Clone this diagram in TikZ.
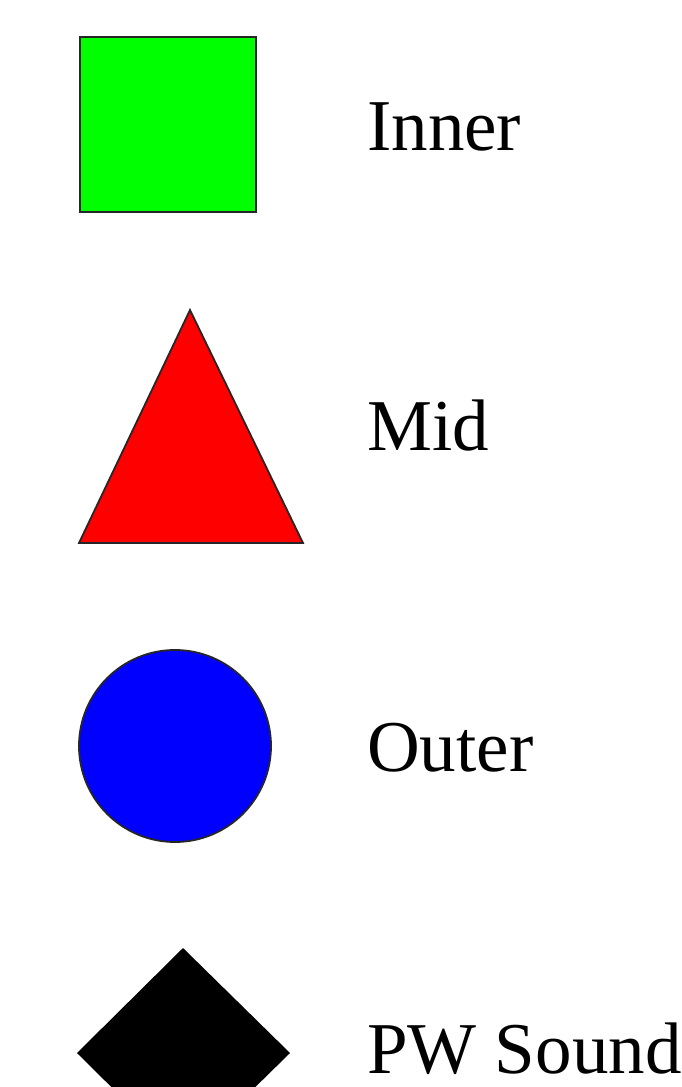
\documentclass[tikz,border=0pt]{standalone}
\usepackage{fontspec}
\setmainfont{Liberation Serif}
\begin{document}
\begin{tikzpicture}[x=1pt,y=-1pt,
  shapeline/.style={draw=black!85, line width=1.8pt, line join=miter},
  lbl/.style={anchor=base west, inner sep=0pt, font=\fontsize{73}{80}\selectfont}]
\useasboundingbox (0,0) rectangle (682,1087);
\fill[white] (0,0) rectangle (682,1087);
\begin{scope}
\clip (0,0) rectangle (682,1087);
% Inner: green square
\path[shapeline, fill={rgb,255:red,0;green,255;blue,0}] (80,37) rectangle (256,212);
% Mid: red triangle
\path[shapeline, fill={rgb,255:red,255;green,0;blue,0}] (190,310) -- (303,543) -- (79,543) -- cycle;
% Outer: blue circle
\path[shapeline, fill={rgb,255:red,0;green,0;blue,255}] (175,746) circle[radius=96];
% PW Sound: black diamond
\path[fill=black] (183,948) -- (290,1053) -- (183,1158) -- (77,1053) -- cycle;
\end{scope}
\node[lbl] (inner) at (367,150) {Inner};
\node[lbl] (mid) at (367,450) {Mid};
\node[lbl] (outer) at (367,771) {Outer};
\node[lbl] (pw) at (367,1073) {PW Sound};
\end{tikzpicture}
\end{document}
